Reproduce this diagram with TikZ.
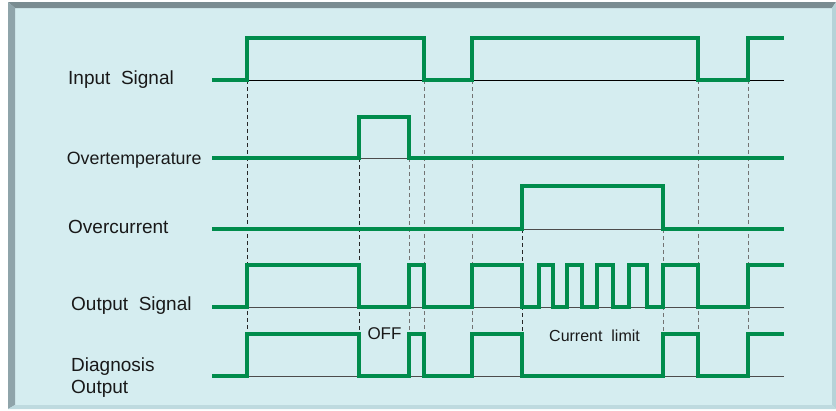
\documentclass[tikz,border=0pt]{standalone}
\usepackage{fontspec}
\setmainfont{Liberation Sans}
\definecolor{sgreen}{RGB}{0,140,76}
\definecolor{panel}{RGB}{213,237,240}
\definecolor{toprim}{RGB}{122,140,145}
\definecolor{leftrim}{RGB}{143,164,170}
\definecolor{rightrim}{RGB}{182,211,216}
\definecolor{botrim}{RGB}{190,218,223}
\begin{document}
\begin{tikzpicture}[x=1pt,y=-1pt,
  sig/.style={draw=sgreen, line width=3.4pt, line join=miter},
  base/.style={draw=black!70, line width=0.8pt},
  guide/.style={draw=black!85, line width=0.9pt, dash pattern=on 4pt off 3pt},
  guideg/.style={guide, draw=black!55},
  lbl/.style={font=\fontsize{19}{22}\selectfont, anchor=base west, inner sep=0pt, text=black!90}]
\useasboundingbox (0,0) rectangle (836,410);
\fill[white] (0,0) rectangle (836,410);
% panel frame
\fill[panel] (8,2) rectangle (836,409);
\fill[toprim] (8,2) -- (836,2) -- (832,8) -- (15,8) -- cycle;
\fill[leftrim] (8,2) -- (15,8) -- (15,405) -- (8,409) -- cycle;
\fill[rightrim] (836,2) -- (836,409) -- (832,405) -- (832,8) -- cycle;
\fill[botrim] (8,409) -- (836,409) -- (832,405) -- (15,405) -- cycle;

% timing guides
\coordinate (g1t) at (247,80);  \coordinate (g1b) at (247,331);
\coordinate (g2t) at (359,158); \coordinate (g2b) at (359,331);
\coordinate (g3t) at (409,158); \coordinate (g3b) at (409,331);
\coordinate (g4t) at (424,80);  \coordinate (g4b) at (424,331);
\coordinate (g5t) at (472,80);  \coordinate (g5b) at (472,331);
\coordinate (g6t) at (522,229); \coordinate (g6b) at (522,331);
\coordinate (g7t) at (663,229); \coordinate (g7b) at (663,331);
\coordinate (g8t) at (698,80);  \coordinate (g8b) at (698,331);
\coordinate (g9t) at (748,80);  \coordinate (g9b) at (748,331);
\draw[guide] (g1t) -- (g1b);
\draw[guide] (g2t) -- (g2b);
\draw[guideg] (g3t) -- (g3b);
\draw[guideg] (g4t) -- (g4b);
\draw[guideg] (g5t) -- (g5b);
\draw[guide] (g6t) -- (g6b);
\draw[guideg] (g7t) -- (g7b);
\draw[guideg] (g8t) -- (g8b);
\draw[guideg] (g9t) -- (g9b);

% baselines
\draw[base, draw=black] (247,80) -- (784,80);
\draw[base] (359,158) -- (409,158);
\draw[base] (522,229) -- (663,229);
\draw[base] (247,307) -- (784,307);
\draw[base] (247,376) -- (784,376);

% signals
\draw[sig] (212,80) -| (247,38) -| (424,80) -| (472,38) -| (698,80) -| (748,38) -- (784,38);
\draw[sig] (212,158) -| (359,117) -| (409,158) -- (784,158);
\draw[sig] (212,229) -| (522,186) -| (663,229) -- (784,229);
\draw[sig] (212,307) -| (247,265) -| (359,307) -| (409,265) -| (424,307) -| (472,265) -| (522,307)
  -| (539,265) -| (553,307) -| (567,265) -| (582,307) -| (597,265) -| (613,307) -| (629,265) -| (647,307)
  -| (663,265) -| (698,307) -| (748,265) -- (784,265);
\draw[sig] (212,376) -| (247,334) -| (359,376) -| (409,334) -| (424,376) -| (472,334) -| (522,376)
  -| (663,334) -| (698,376) -| (748,334) -- (784,334);

% labels
\node[lbl] (lin) at (68,84.3) {Input\ \ Signal};
\node[lbl, font=\fontsize{17.8}{20}\selectfont] (lot) at (66.7,164.3) {Overtemperature};
\node[lbl] (loc) at (68,233.3) {Overcurrent};
\node[lbl] (lout) at (71,310) {Output\ \ Signal};
\node[lbl] (ldiag) at (71,371.7) {Diagnosis};
\node[lbl] (ldiag2) at (71,393.3) {Output};
\node[lbl, font=\fontsize{17}{20}\selectfont] (loff) at (367.3,339.3) {OFF};
\node[lbl, font=\fontsize{16}{19}\selectfont] (lcl) at (549,341) {Current\ \ limit};
\end{tikzpicture}
\end{document}
